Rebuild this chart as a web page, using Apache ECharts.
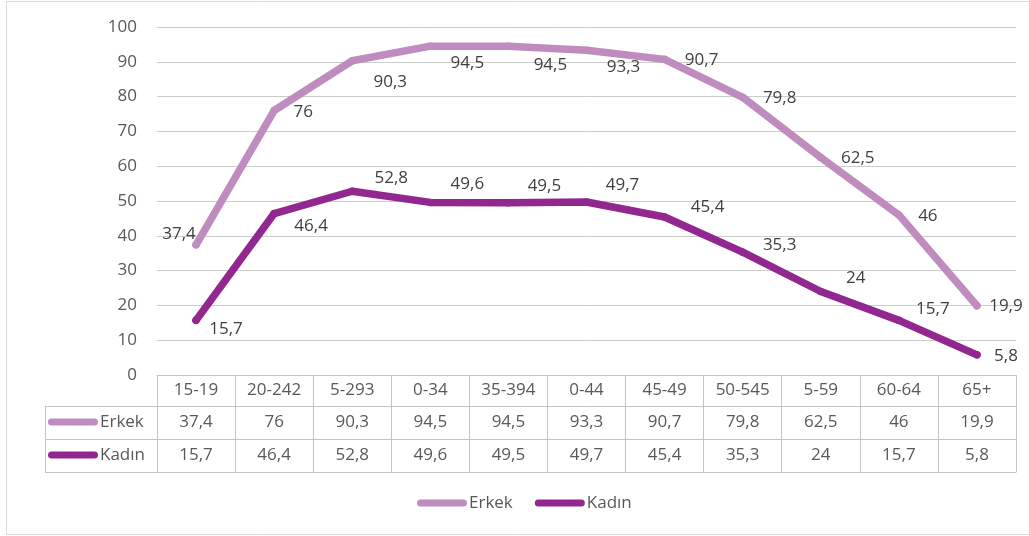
<!DOCTYPE html>
<html>
<head>
<meta charset="utf-8">
<script src="https://cdn.jsdelivr.net/npm/echarts@6/dist/echarts.min.js"></script>
<style>
html,body{margin:0;padding:0;background:#fff;}
#c{width:1029px;height:536px;}
</style>
</head>
<body>
<div id="c"></div>
<script>
const categories = ['15-19','20-242','5-293','0-34','35-394','0-44','45-49','50-545','5-59','60-64','65+'];
const erkek = [37.4, 76, 90.3, 94.5, 94.5, 93.3, 90.7, 79.8, 62.5, 46, 19.9];
const kadin = [15.7, 46.4, 52.8, 49.6, 49.5, 49.7, 45.4, 35.3, 24, 15.7, 5.8];
const seriesNames = ['Erkek', 'Kadın'];
const yMin = 0, yMax = 100, yStep = 10;

// label offsets (style only)
const erkekLabelOffsets = [[-17,-11],[29,2],[38,21],[37,17],[42,19],[37,17],[37,1],[37,1],[37,1],[29,1],[29,0]];
const kadinLabelOffsets = [[30,9],[37,13],[39,-13],[37,-18],[36,-17],[36,-17],[43,-10],[37,-7],[35,-13],[34,-11],[29,1]];

const fmt = v => String(v).replace('.', ',');
const FONT = '"Open Sans", sans-serif';
const C_ERKEK = '#C08BBF';
const C_KADIN = '#92278F';
const TXT = '#595959';
const TABLE = '#C4C4C4';
const capsule = 'path://M3.5,0H46.5A3.5,3.5,0,0,1,46.5,7H3.5A3.5,3.5,0,0,1,3.5,0Z';

const chart = echarts.init(document.getElementById('c'), null, {renderer: 'canvas'});

function mk(vals, offs) {
  return vals.map((v, i) => ({value: v, label: {offset: offs[i]}}));
}

const legendCommon = {
  icon: capsule, itemWidth: 50, itemHeight: 7, padding: 0, selectedMode: false,
  textStyle: {fontFamily: FONT, fontSize: 17, color: TXT, lineHeight: 20, padding: [0, 0, 0, -3]}
};

chart.setOption({
  animation: false,
  textStyle: {fontFamily: FONT},
  graphic: [{
    type: 'rect', silent: true, z: -10,
    shape: {x: 6.5, y: 1.5, width: 1040, height: 533},
    style: {fill: 'none', stroke: '#D9D9D9', lineWidth: 1}
  }],
  grid: [
    {left: 157, right: 13, top: 27, bottom: 161, outerBoundsMode: 'none', containLabel: false},
    {left: 45, width: 112, top: 406, height: 66, outerBoundsMode: 'none', containLabel: false}
  ],
  legend: [
    Object.assign({data: seriesNames, left: 417, top: 493, itemGap: 22}, legendCommon),
    Object.assign({data: [seriesNames[0]], left: 48, top: 412}, legendCommon),
    Object.assign({data: [seriesNames[1]], left: 48, top: 445}, legendCommon)
  ],
  xAxis: [
    {
      type: 'category', data: categories, gridIndex: 0, position: 'bottom', boundaryGap: true,
      axisLine: {show: true, lineStyle: {color: TABLE, width: 1}},
      axisTick: {show: true, interval: 0, length: 97, lineStyle: {color: TABLE, width: 1}},
      axisLabel: {interval: 0, margin: 7, fontSize: 17, color: TXT, fontFamily: FONT, hideOverlap: false},
      splitLine: {show: false}
    },
    {
      type: 'category', data: erkek.map(fmt), gridIndex: 0, position: 'bottom', offset: 31,
      axisLine: {show: true, lineStyle: {color: TABLE, width: 1}},
      axisTick: {show: false},
      axisLabel: {interval: 0, margin: 8, fontSize: 17, color: TXT, fontFamily: FONT, hideOverlap: false},
      splitLine: {show: false}
    },
    {
      type: 'category', data: kadin.map(fmt), gridIndex: 0, position: 'bottom', offset: 64,
      axisLine: {show: true, lineStyle: {color: TABLE, width: 1}},
      axisTick: {show: false},
      axisLabel: {interval: 0, margin: 8, fontSize: 17, color: TXT, fontFamily: FONT, hideOverlap: false},
      splitLine: {show: false}
    },
    {
      type: 'category', data: categories.map(() => ''), gridIndex: 0, position: 'bottom', offset: 97,
      axisLine: {show: true, lineStyle: {color: TABLE, width: 1}},
      axisTick: {show: false}, axisLabel: {show: false}, splitLine: {show: false}
    },
    {
      type: 'value', gridIndex: 1, show: false, min: 0, max: 1
    }
  ],
  yAxis: [
    {
      type: 'value', gridIndex: 0, min: yMin, max: yMax, interval: yStep,
      axisLine: {show: false}, axisTick: {show: false},
      axisLabel: {fontSize: 17, color: TXT, margin: 20, fontFamily: FONT},
      splitLine: {show: true, lineStyle: {color: '#CCCCCC', width: 1}}
    },
    {
      type: 'value', gridIndex: 1, min: 0, max: 2, interval: 1, inverse: true,
      axisLine: {show: true, lineStyle: {color: TABLE, width: 1}},
      axisTick: {show: false}, axisLabel: {show: false},
      splitLine: {show: true, lineStyle: {color: TABLE, width: 1}}
    }
  ],
  series: [
    {
      name: seriesNames[0], type: 'line', xAxisIndex: 0, yAxisIndex: 0,
      data: mk(erkek, erkekLabelOffsets),
      symbol: 'circle', symbolSize: 7.5, showSymbol: true,
      itemStyle: {color: C_ERKEK},
      lineStyle: {color: C_ERKEK, width: 7.5, cap: 'round', join: 'round'},
      label: {show: true, position: 'inside', align: 'center', verticalAlign: 'middle',
        fontSize: 17, color: '#404040', fontFamily: FONT, formatter: p => fmt(p.value)},
      emphasis: {disabled: true}, z: 3
    },
    {
      name: seriesNames[1], type: 'line', xAxisIndex: 0, yAxisIndex: 0,
      data: mk(kadin, kadinLabelOffsets),
      symbol: 'circle', symbolSize: 7.5, showSymbol: true,
      itemStyle: {color: C_KADIN},
      lineStyle: {color: C_KADIN, width: 7.5, cap: 'round', join: 'round'},
      label: {show: true, position: 'inside', align: 'center', verticalAlign: 'middle',
        fontSize: 17, color: '#404040', fontFamily: FONT, formatter: p => fmt(p.value)},
      emphasis: {disabled: true}, z: 3
    }
  ]
});
</script>
</body>
</html>
